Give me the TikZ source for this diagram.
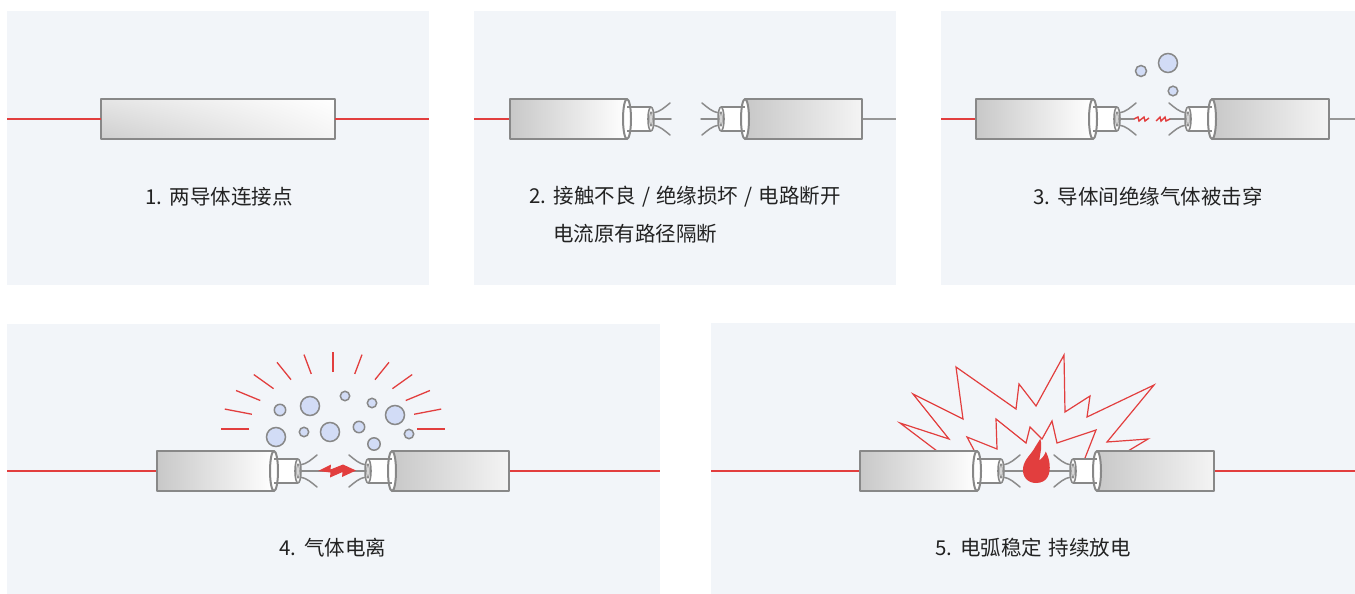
\documentclass[tikz,border=0pt]{standalone}
\usepackage{fontspec}
\usetikzlibrary{shadings}
\setmainfont{Noto Sans CJK SC}[WordSpace=1.35]
\definecolor{panelbg}{RGB}{242,245,249}
\definecolor{cablegray}{RGB}{136,136,136}
\definecolor{wiregray}{RGB}{140,140,140}
\definecolor{deadgray}{RGB}{150,150,150}
\definecolor{feedred}{RGB}{226,62,62}
\definecolor{bubblefill}{RGB}{210,220,246}
\definecolor{captioncol}{RGB}{34,34,34}
\definecolor{jacketdark}{RGB}{200,200,200}
\definecolor{jacketlight}{RGB}{244,244,244}

\tikzset{
  panel/.style={fill=panelbg, draw=none},
  outline/.style={draw=cablegray, line width=2pt, line join=round},
  wire/.style={draw=wiregray, line width=1.5pt, line cap=round},
  feed/.style={draw=feedred, line width=1.2pt},
  deadfeed/.style={draw=deadgray, line width=1.2pt},
  bubble/.style={fill=bubblefill, draw=cablegray, line width=1.5pt},
  ray/.style={draw=feedred, line width=1.3pt},
  spark/.style={draw=feedred, line width=1.4pt, line join=miter},
  burst/.style={draw=feedred, line width=1.2pt, line join=miter},
  caption/.style={font=\fontsize{20.5}{24}\selectfont, text=captioncol, inner sep=0pt},
}

% cable whose cut end faces right; #1 = x of the cut, #2 = centre line y
\newcommand\leftcable[2]{%
\begin{scope}[shift={(#1,#2)}]
  \shade[left color=jacketdark, right color=white] (-117,-20) rectangle (0,20);
  \fill[white] (0,0) ellipse [x radius=4, y radius=20];
  \fill[white] (0,-12) rectangle (24,12);
  \draw[outline] (0,-20) -- (-117,-20) -- (-117,20) -- (0,20);
  \draw[outline] (0,0) ellipse [x radius=4, y radius=20];
  \draw[outline] (0,-12) -- (24,-12) (0,12) -- (24,12);
  \draw[outline, fill=white, line width=1.6pt] (24,0) ellipse [x radius=3, y radius=12];
  \draw[wiregray, line width=1pt] (24,0) ellipse [x radius=1.2, y radius=7];
  \draw[wire] (26,-6) .. controls (33,-7) and (38,-12) .. (43,-16);
  \draw[wire] (26,6) .. controls (33,7) and (38,12) .. (43,16);
\end{scope}}

% cable whose cut end faces left
\newcommand\rightcable[2]{%
\begin{scope}[shift={(#1,#2)}]
  \shade[left color=jacketdark, right color=jacketlight] (0,-20) rectangle (117,20);
  \fill[white] (0,0) ellipse [x radius=4, y radius=20];
  \fill[white] (-24,-12) rectangle (0,12);
  \draw[outline] (0,-20) -- (117,-20) -- (117,20) -- (0,20);
  \draw[outline] (0,0) ellipse [x radius=4, y radius=20];
  \draw[outline] (0,-12) -- (-24,-12) (0,12) -- (-24,12);
  \draw[outline, fill=white, line width=1.6pt] (-24,0) ellipse [x radius=3, y radius=12];
  \draw[wiregray, line width=1pt] (-24,0) ellipse [x radius=1.2, y radius=7];
  \draw[wire] (-26,-6) .. controls (-33,-7) and (-38,-12) .. (-43,-16);
  \draw[wire] (-26,6) .. controls (-33,7) and (-38,12) .. (-43,16);
\end{scope}}

\begin{document}
\begin{tikzpicture}[x=1pt,y=-1pt]
\useasboundingbox (0,0) rectangle (1355,594);
\fill[white] (0,0) rectangle (1355,594);

% panels
\fill[panel] (7,11) rectangle (429,285);
\fill[panel] (474,11) rectangle (896,285);
\fill[panel] (941,11) rectangle (1355,285);
\fill[panel] (7,324) rectangle (660,594);
\fill[panel] (711,323) rectangle (1355,594);

% ---------- 1: intact joint ----------
\coordinate (p1a) at (7,119);
\coordinate (p1b) at (429,119);
\shade[upper left=black!10, lower left=black!19, upper right=white, lower right=black!4]
  (101,99) rectangle (335,139);
\draw[outline] (101,99) rectangle (335,139);
\coordinate (j1l) at (101,119);
\coordinate (j1r) at (335,119);
\draw[feed] (p1a) -- (j1l);
\draw[feed] (j1r) -- (p1b);
\node[caption] (cap1) at (219,197) {1. 两导体连接点};

% ---------- 2: broken contact ----------
\coordinate (p2a) at (474,119);
\coordinate (p2b) at (896,119);
\coordinate (j2l) at (510,119);
\coordinate (j2r) at (862,119);
\draw[feed] (p2a) -- (j2l);
\draw[deadfeed] (j2r) -- (p2b);
\leftcable{627}{119}
\rightcable{745}{119}
\coordinate (w2l) at (653,119);
\coordinate (w2le) at (671,119);
\coordinate (w2r) at (719,119);
\coordinate (w2re) at (701,119);
\draw[wire] (w2l) -- (w2le);
\draw[wire] (w2r) -- (w2re);
\node[caption] (cap2a) at (685,197) {2. 接触不良 / 绝缘损坏 / 电路断开};
\node[caption, anchor=west] (cap2b) at (553,234) {电流原有路径隔断};

% ---------- 3: breakdown ----------
\coordinate (p3a) at (941,119);
\coordinate (p3b) at (1355,119);
\coordinate (j3l) at (976,119);
\coordinate (j3r) at (1329,119);
\draw[feed] (p3a) -- (j3l);
\draw[deadfeed] (j3r) -- (p3b);
\leftcable{1093}{119}
\rightcable{1212}{119}
\coordinate (w3l) at (1119,119);
\coordinate (w3le) at (1134,119);
\coordinate (w3r) at (1186,119);
\coordinate (w3re) at (1170,119);
\draw[wire] (w3l) -- (w3le);
\draw[wire] (w3r) -- (w3re);
\draw[spark] (w3le) -- (1138,117) -- (1139,121) -- (1144,117) -- (1145,121) -- (1149,118);
\draw[spark] (1156,121) -- (1160,117) -- (1161,121) -- (1165,117) -- (1166,121) -- (w3re);
\draw[bubble] (1141,71) circle [radius=5.5];
\draw[bubble] (1168,63) circle [radius=9.5];
\draw[bubble] (1173,91) circle [radius=4.8];
\node[caption] (cap3) at (1148,197) {3. 导体间绝缘气体被击穿};

% ---------- 4: ionisation ----------
\coordinate (p4a) at (7,471);
\coordinate (p4b) at (660,471);
\coordinate (j4l) at (157,471);
\coordinate (j4r) at (509,471);
\draw[feed] (p4a) -- (j4l);
\draw[feed] (j4r) -- (p4b);
\foreach \a in {0,15,...,180}
  \draw[ray] ({333+84*cos(\a)},{429-57*sin(\a)}) -- ({333+112*cos(\a)},{429-77*sin(\a)});
\foreach \cx/\cy/\r in {280/410/5.7, 310/406/9.5, 345/396/4.7, 372/403/4.7, 395/415/9.5,
                        276/437/9.5, 304/432/4.7, 330/432/9.5, 359/427/5.7, 374/444/6.2, 409/434/4.7}
  \draw[bubble] (\cx,\cy) circle [radius=\r];
\leftcable{274}{471}
\rightcable{392}{471}
\coordinate (w4l) at (300,471);
\coordinate (w4r) at (366,471);
\draw[wire] (w4l) -- (w4r);
\fill[feedred] (318,471) -- (331,464.5) -- (330.5,469.5) -- (343,464.5) -- (356,470.5)
  -- (342,477) -- (342.5,472) -- (330,477.5) -- (330.5,472.5) -- cycle;
\node[caption] (cap4) at (333,548) {4. 气体电离};

% ---------- 5: sustained arc ----------
\coordinate (p5a) at (711,471);
\coordinate (p5b) at (1355,471);
\coordinate (j5l) at (860,471);
\coordinate (j5r) at (1214,471);
\draw[feed] (p5a) -- (j5l);
\draw[feed] (j5r) -- (p5b);
\draw[burst] (937,451) -- (900,423) -- (949,439) -- (913,394) -- (963,419) -- (956,367)
  -- (1016,409) -- (1019,384) -- (1036,406) -- (1064,355) -- (1065,412) -- (1090,396)
  -- (1087,417) -- (1154,385) -- (1107,442) -- (1148,439) -- (1128,451);
\draw[burst] (975,452) -- (967,437) -- (997,449) -- (996,419) -- (1026,443) -- (1030,427)
  -- (1042,439) -- (1052,421) -- (1057,443) -- (1096,430) -- (1085,458);
\leftcable{977}{471}
\rightcable{1097}{471}
\coordinate (w5l) at (1003,471);
\coordinate (w5r) at (1071,471);
\draw[wire] (w5l) -- (w5r);
% flame: tall main tongue with a shorter tongue on its right
\fill[feedred, shift={(1036,483)}, scale=1.08]
  (0,0) .. controls (-8,0) and (-13,-6) .. (-12,-14)
  .. controls (-11,-22) and (-4,-27) .. (-1,-33)
  .. controls (1,-36) and (2,-38) .. (4,-41)
  .. controls (6,-34) and (4,-28) .. (3,-21)
  .. controls (6,-23) and (8,-26) .. (9,-29)
  .. controls (13,-22) and (14,-12) .. (11,-6)
  .. controls (9,-2) and (5,0) .. (0,0) -- cycle;
\node[caption] (cap5) at (1033,548) {5. 电弧稳定 持续放电};

\end{tikzpicture}
\end{document}
